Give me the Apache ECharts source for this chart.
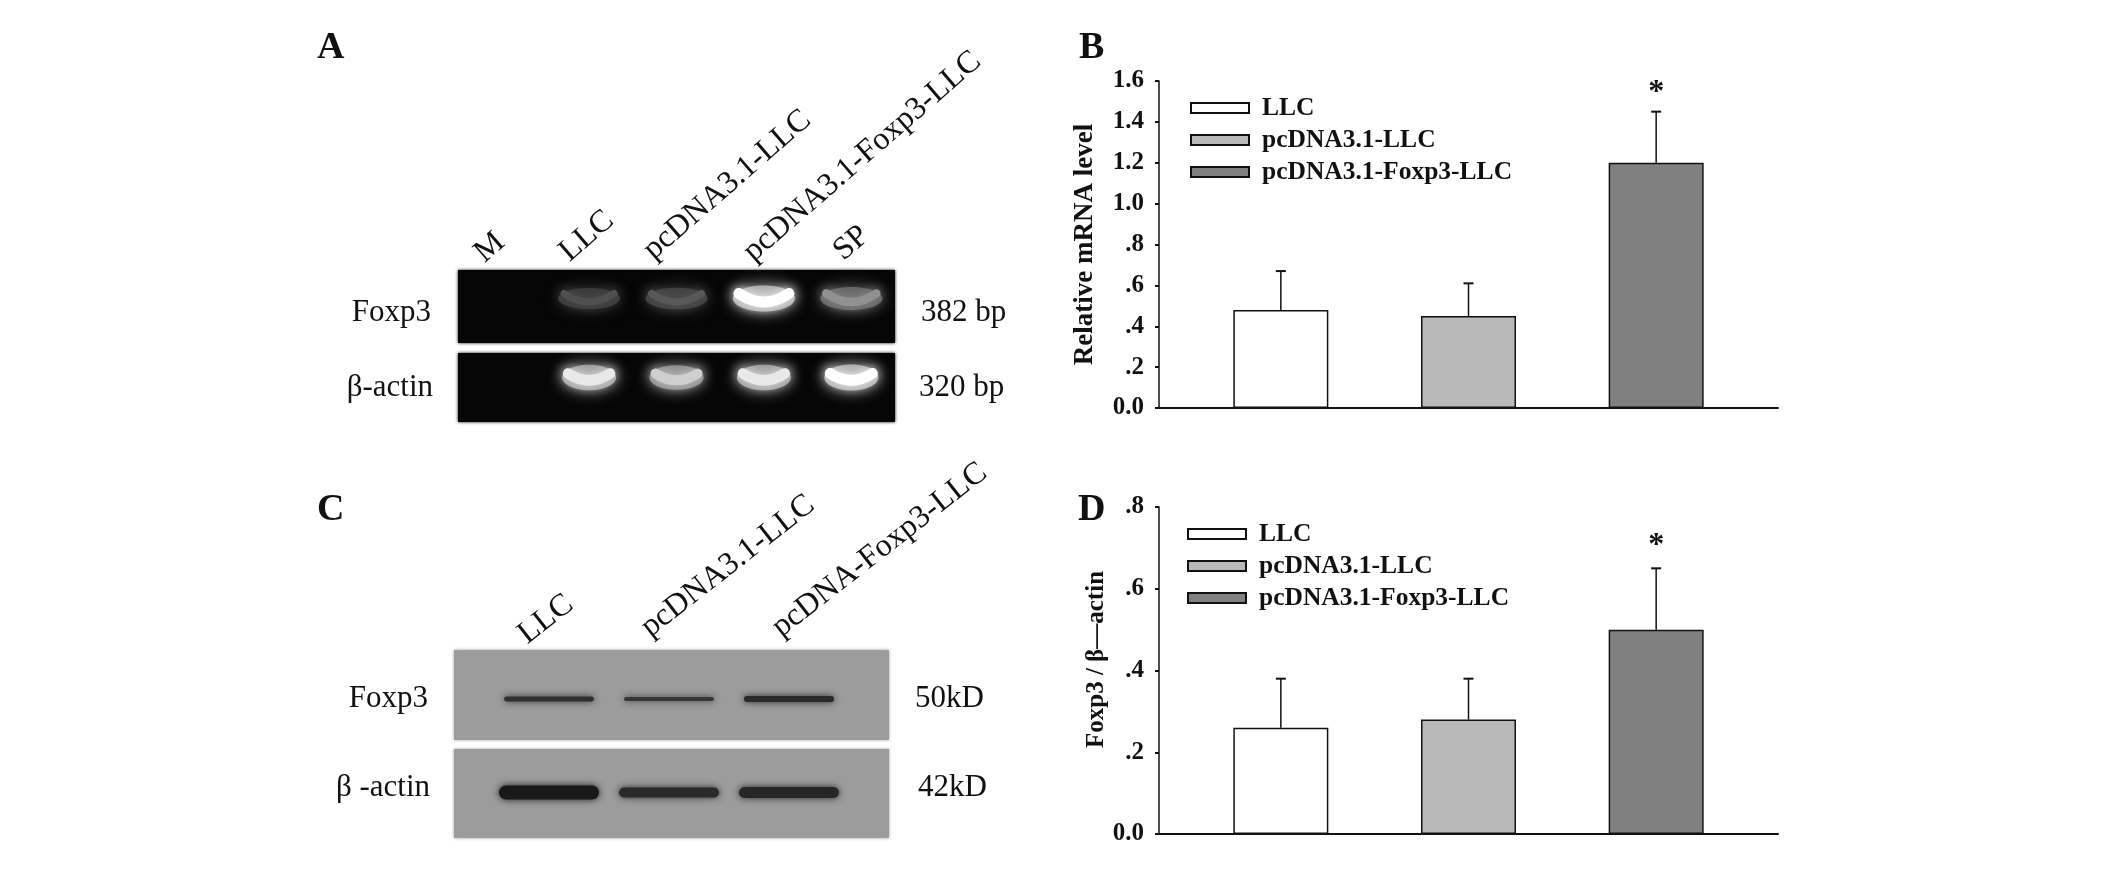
<!DOCTYPE html>
<html>
<head>
<meta charset="utf-8">
<script src="https://cdn.jsdelivr.net/npm/echarts@6/dist/echarts.min.js"></script>
<style>
  html, body { margin: 0; background: #fff; }
  #chart { width: 2126px; height: 869px; }
</style>
</head>
<body>
<div id="chart"></div>
<script>
// bar data
const groups = ['LLC', 'pcDNA3.1-LLC', 'pcDNA3.1-Foxp3-LLC']
const mrnaMean = [0.48, 0.45, 1.2]
const mrnaUpper = [0.67, 0.61, 1.45]
const proteinMean = [0.26, 0.28, 0.5]
const proteinUpper = [0.38, 0.38, 0.65]
const stars = ['', '', '*']

// gel lanes and band intensity (0-1)
const gelLanes = ['M', 'LLC', 'pcDNA3.1-LLC', 'pcDNA3.1-Foxp3-LLC', 'SP']
const gelFoxp3 = [0, 0.2, 0.24, 1, 0.5]
const gelActin = [0, 0.9, 0.78, 0.9, 1]
const blotLanes = ['LLC', 'pcDNA3.1-LLC', 'pcDNA-Foxp3-LLC']
const blotFoxp3 = [0.62, 0.5, 0.72]
const blotActin = [1, 0.72, 0.78]

const FONT = '"Liberation Serif"'
const barColors = ['#ffffff', '#b9b9b9', '#808080']

const grid = []
const xAxis = []
const yAxis = []
const series = []
const legend = []
const graphic = []

function addText(text, x, y, size, opt) {
  opt = opt || {}
  graphic.push({
    type: 'text',
    x: x,
    y: y,
    rotation: (opt.angle || 0) * Math.PI / 180,
    z: 5,
    style: {
      text: text,
      font: (opt.style || '') + ' ' + size + 'px ' + FONT,
      fill: '#111',
      textAlign: 'left',
      textVerticalAlign: 'middle'
    }
  })
}

function addStrip(x, y, w, h, color) {
  graphic.push({
    type: 'rect',
    z: 0,
    shape: { x: x, y: y, width: w, height: h },
    style: { fill: color, shadowBlur: 3, shadowColor: color }
  })
}

// one row of gel/blot bands, row labels come from the category y axes
function addBands(box, lanes, values, leftLabel, rightLabel, margins, renderBand) {
  const i = grid.length
  grid.push({ left: box[0], top: box[1], width: box[2], height: box[3] })
  xAxis.push({ gridIndex: i, type: 'category', data: lanes, show: false })
  const first = yAxis.length
  ;[[leftLabel, 'left', margins[0]], [rightLabel, 'right', margins[1]]].forEach(function (r) {
    yAxis.push({
      gridIndex: i,
      type: 'category',
      position: r[1],
      data: [r[0]],
      axisLine: { show: false },
      axisTick: { show: false },
      axisLabel: { fontFamily: FONT, fontSize: 31, color: '#111', margin: r[2] }
    })
  })
  series.push({
    type: 'custom',
    xAxisIndex: xAxis.length - 1,
    yAxisIndex: first,
    silent: true,
    z: 3,
    data: values.map(function (v, k) { return [k, 0, v] }),
    renderItem: function (params, api) {
      const p = api.coord([api.value(0), 0])
      return renderBand(p, api.value(2))
    }
  })
}

function grey(level) {
  const l = Math.round(level)
  return 'rgb(' + l + ',' + l + ',' + l + ')'
}

function gelBand(dy, halfW, sag) {
  return function (p, v) {
    if (!v) return { type: 'group', children: [] }
    const cy = p[1] + dy
    const glow = grey(30 + 140 * v)
    const core = grey(35 + 220 * v)
    return {
      type: 'group',
      children: [
        {
          type: 'ellipse',
          shape: { cx: p[0], cy: cy, rx: halfW + 6, ry: 10 + 3 * v },
          style: { fill: glow, shadowBlur: 16, shadowColor: glow }
        },
        {
          type: 'bezierCurve',
          shape: {
            x1: p[0] - halfW, y1: cy - sag,
            x2: p[0] + halfW, y2: cy - sag,
            cpx1: p[0], cpy1: cy + sag * 2.4
          },
          style: { fill: null, stroke: core, lineWidth: 6 + 5 * v, lineCap: 'round', shadowBlur: 12, shadowColor: core }
        }
      ]
    }
  }
}

function blotBand(dy, halfW, thick) {
  return function (p, v) {
    const c = grey(85 - 60 * v)
    const h = thick * v
    return {
      type: 'rect',
      shape: { x: p[0] - halfW, y: p[1] + dy - h / 2, width: halfW * 2, height: h, r: h / 2 },
      style: { fill: c, shadowBlur: 7, shadowColor: c }
    }
  }
}

// bar panel: outer grid holds the axes, inner grid centres the three bars
function addBarPanel(top, height, maxVal, yName, nameGap, namePad, nameSize, means, uppers, legendTop, legendLeft, starGap) {
  const outer = grid.length
  grid.push({ left: 1159, top: top, width: 619, height: height })
  xAxis.push({
    gridIndex: outer,
    type: 'category',
    data: [],
    axisLine: { lineStyle: { color: '#111', width: 2 } },
    axisTick: { show: false },
    axisLabel: { show: false }
  })
  yAxis.push({
    gridIndex: outer,
    type: 'value',
    min: 0,
    max: maxVal,
    interval: 0.2,
    name: yName,
    nameLocation: 'middle',
    nameGap: nameGap,
    nameTextStyle: { fontFamily: FONT, fontSize: nameSize, fontWeight: 'bold', color: '#111', padding: namePad },
    axisLine: { show: true, lineStyle: { color: '#111', width: 1.5 } },
    axisTick: { show: true, length: 4, lineStyle: { color: '#111', width: 2 } },
    splitLine: { show: false },
    axisLabel: {
      fontFamily: FONT,
      fontSize: 25,
      fontWeight: 'bold',
      color: '#111',
      margin: 15,
      formatter: function (v) { return v === 0 ? '0.0' : v.toFixed(1).replace(/^0\./, '.') }
    }
  })
  const inner = grid.length
  grid.push({ left: 1187, top: top, width: 563, height: height })
  xAxis.push({ gridIndex: inner, type: 'category', data: groups, show: false })
  yAxis.push({ gridIndex: inner, type: 'value', min: 0, max: maxVal, show: false })
  const xi = xAxis.length - 1
  const yi = yAxis.length - 1
  groups.forEach(function (name, k) {
    series.push({
      name: name,
      type: 'bar',
      xAxisIndex: xi,
      yAxisIndex: yi,
      barWidth: 95,
      barGap: '-100%',
      silent: true,
      itemStyle: { color: barColors[k], borderColor: '#111', borderWidth: 1.5 },
      data: means.map(function (v, j) { return j === k ? v : null })
    })
  })
  series.push({
    type: 'custom',
    xAxisIndex: xi,
    yAxisIndex: yi,
    silent: true,
    z: 4,
    encode: { x: 0, y: [1, 2] },
    data: means.map(function (v, k) { return [k, v, uppers[k], stars[k]] }),
    renderItem: function (params, api) {
      const low = api.coord([api.value(0), api.value(1)])
      const high = api.coord([api.value(0), api.value(2)])
      const line = { stroke: '#111', lineWidth: 1.5 }
      const kids = [
        { type: 'line', shape: { x1: low[0], y1: low[1], x2: high[0], y2: high[1] }, style: line },
        { type: 'line', shape: { x1: high[0] - 5, y1: high[1], x2: high[0] + 5, y2: high[1] }, style: { stroke: '#111', lineWidth: 2 } }
      ]
      const star = stars[params.dataIndex]
      if (star) {
        kids.push({
          type: 'text',
          x: high[0],
          y: high[1] - starGap,
          style: { text: star, font: 'bold 32px ' + FONT, fill: '#111', textAlign: 'center', textVerticalAlign: 'middle' }
        })
      }
      return { type: 'group', children: kids }
    }
  })
  legend.push({
    data: groups,
    left: legendLeft,
    top: legendTop,
    orient: 'vertical',
    icon: 'rect',
    itemWidth: 58,
    itemHeight: 10,
    itemGap: 6,
    selectedMode: false,
    padding: 0,
    textStyle: { fontFamily: FONT, fontSize: 25.5, fontWeight: 'bold', color: '#111', padding: [0, 0, 0, 8] }
  })
}

// panel letters
addText('A', 317, 48, 38, { style: 'bold' })
addText('B', 1079, 48, 38, { style: 'bold' })
addText('C', 317, 510, 38, { style: 'bold' })
addText('D', 1078, 510, 38, { style: 'bold' })

// panel A
addStrip(458, 270, 437, 73, '#060606')
addStrip(458, 353, 437, 69, '#060606')
addBands([458, 276, 437, 73], gelLanes, gelFoxp3, 'Foxp3', '382 bp', [27, 26], gelBand(-14, 25, 5))
addBands([458, 353, 437, 69], gelLanes, gelActin, '\u03b2-actin', '320 bp', [25, 24], gelBand(-10, 21, 4))
const gelLabelPos = [[479, 257], [564, 256], [648, 254], [748, 256], [838, 255]]
gelLanes.forEach(function (t, k) {
  addText(t, gelLabelPos[k][0], gelLabelPos[k][1], 32, { angle: 41 })
})

// panel C
addStrip(454, 650, 435, 90, '#9c9c9c')
addStrip(454, 749, 435, 89, '#9c9c9c')
addBands([489, 654, 360, 90], blotLanes, blotFoxp3, 'Foxp3', '50kD', [61, 66], blotBand(0, 45, 8))
addBands([489, 743, 360, 89], blotLanes, blotActin, '\u03b2 -actin', '42kD', [59, 69], blotBand(5, 50, 14))
const blotLabelPos = [[522, 638], [645, 631], [776, 631]]
blotLanes.forEach(function (t, k) {
  addText(t, blotLabelPos[k][0], blotLabelPos[k][1], 32, { angle: 38 })
})

// panels B and D
addBarPanel(81, 327, 1.6, 'Relative mRNA level', 60, 0, 27, mrnaMean, mrnaUpper, 95, 1190, 19)
addBarPanel(507, 327, 0.8, 'Foxp3 / \u03b2\u2014actin', 23, [0, 0, 0, 22], 25, proteinMean, proteinUpper, 521, 1187, 23)

const chart = echarts.init(document.getElementById('chart'))
chart.setOption({
  animation: false,
  backgroundColor: '#fff',
  grid: grid,
  xAxis: xAxis,
  yAxis: yAxis,
  legend: legend,
  series: series,
  graphic: graphic
})
</script>
</body>
</html>
